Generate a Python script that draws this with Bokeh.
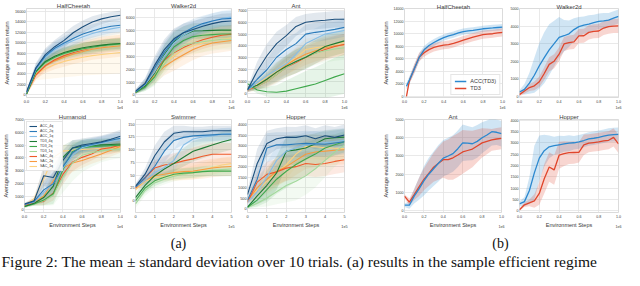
from bokeh.plotting import figure
from bokeh.layouts import column, row
from bokeh.models import (Range1d, FixedTicker, Label, Legend, LegendItem, NumeralTickFormatter,
                          Title, LinearAxis)
from bokeh.embed import file_html
from bokeh.resources import INLINE

# ---------------- data ----------------
NAMES = ["ACC_4q", "ACC_2q", "ACC_1q", "TD3_4q", "TD3_2q", "TD3_1q", "SAC_4q", "SAC_2q", "SAC_1q"]
COLORS = {"ACC_4q": "#1c4f7c", "ACC_2q": "#2b7bba", "ACC_1q": "#86bde6",
          "TD3_4q": "#1e7b35", "TD3_2q": "#3fa84c", "TD3_1q": "#a3d99c",
          "SAC_4q": "#ef5a2a", "SAC_2q": "#f79a3e", "SAC_1q": "#fdd17f"}

STEPS_1E6 = [0.0, 0.1, 0.2, 0.3, 0.4, 0.5, 0.6, 0.7, 0.8, 0.9, 1.0]
STEPS_1E5 = [0.0, 0.5, 1.0, 1.5, 2.0, 2.5, 3.0, 3.5, 4.0, 4.5, 5.0]

HC_A_MEAN = {
    "ACC_4q": [600, 5200, 7700, 9200, 10400, 11900, 13000, 13900, 14500, 14900, 15200],
    "ACC_2q": [500, 5000, 7400, 8900, 9900, 10800, 11600, 12200, 12700, 13100, 13300],
    "ACC_1q": [400, 4800, 7200, 8600, 9600, 10400, 11100, 11700, 12200, 12600, 12900],
    "TD3_4q": [200, 4500, 6400, 7400, 8100, 8600, 9000, 9300, 9500, 9700, 9800],
    "TD3_2q": [200, 4400, 6200, 7200, 7900, 8400, 8800, 9100, 9400, 9600, 9700],
    "TD3_1q": [200, 4300, 6100, 7100, 7800, 8300, 8700, 9000, 9300, 9500, 9600],
    "SAC_4q": [300, 3800, 5600, 6700, 7500, 8100, 8600, 9000, 9300, 9500, 9700],
    "SAC_2q": [300, 3900, 5500, 6500, 7200, 7800, 8300, 8700, 9000, 9200, 9400],
    "SAC_1q": [300, 4000, 5000, 5800, 6400, 6800, 7200, 7500, 7700, 7900, 8100]}
HC_A_STD = {
    "ACC_4q": [400, 900, 1200, 1300, 1400, 1300, 1200, 1100, 1000, 900, 900],
    "ACC_2q": [400, 900, 1200, 1300, 1300, 1300, 1300, 1300, 1300, 1300, 1300],
    "ACC_1q": [400, 800, 1100, 1200, 1200, 1200, 1200, 1200, 1200, 1200, 1200],
    "TD3_4q": [300, 700, 900, 1000, 1000, 1000, 1000, 1000, 1000, 1000, 1000],
    "TD3_2q": [300, 700, 900, 1000, 1100, 1100, 1100, 1100, 1100, 1100, 1100],
    "TD3_1q": [300, 700, 900, 1000, 1100, 1200, 1200, 1200, 1200, 1200, 1200],
    "SAC_4q": [300, 800, 1000, 1100, 1200, 1200, 1300, 1300, 1300, 1300, 1300],
    "SAC_2q": [300, 900, 1300, 1600, 1800, 1900, 2000, 2000, 2100, 2100, 2100],
    "SAC_1q": [300, 1200, 2000, 2600, 3000, 3300, 3500, 3700, 3800, 3900, 4000]}

W_A_MEAN = {
    "ACC_4q": [300, 900, 2300, 3500, 4330, 4800, 5050, 5300, 5500, 5650, 5700],
    "ACC_2q": [250, 850, 2100, 3300, 4200, 4800, 5200, 5500, 5700, 5850, 5900],
    "ACC_1q": [250, 800, 1800, 3000, 4000, 4600, 5000, 5400, 5700, 5900, 6000],
    "TD3_4q": [200, 700, 1700, 3100, 4100, 4600, 4930, 4950, 4980, 5000, 5000],
    "TD3_2q": [200, 600, 1400, 2700, 3700, 4200, 4500, 4600, 4650, 4700, 4700],
    "TD3_1q": [200, 600, 1300, 2400, 3300, 3800, 4000, 4100, 4200, 4300, 4300],
    "SAC_4q": [200, 800, 1800, 2700, 3260, 3650, 3980, 4250, 4450, 4600, 4690],
    "SAC_2q": [200, 700, 1500, 2200, 2670, 3100, 3500, 3800, 4000, 4100, 4200],
    "SAC_1q": [200, 800, 1700, 2500, 3000, 3500, 3800, 4000, 4200, 4300, 4400]}
W_A_STD = {
    "ACC_4q": [150, 400, 700, 800, 800, 700, 650, 600, 600, 600, 600],
    "ACC_2q": [150, 400, 700, 800, 800, 700, 650, 600, 600, 600, 600],
    "ACC_1q": [150, 400, 700, 800, 800, 700, 650, 600, 600, 600, 600],
    "TD3_4q": [100, 300, 600, 800, 800, 700, 600, 600, 600, 600, 600],
    "TD3_2q": [100, 300, 600, 800, 800, 700, 700, 700, 700, 700, 700],
    "TD3_1q": [100, 300, 600, 800, 900, 800, 800, 800, 800, 800, 800],
    "SAC_4q": [100, 300, 600, 700, 700, 700, 700, 700, 700, 700, 700],
    "SAC_2q": [100, 300, 600, 700, 800, 800, 800, 800, 800, 800, 800],
    "SAC_1q": [100, 300, 600, 700, 700, 700, 700, 700, 700, 700, 700]}

ANT_A_MEAN = {
    "ACC_4q": [300, 1900, 3180, 4200, 4870, 5650, 6000, 6100, 6170, 6250, 6250],
    "ACC_2q": [300, 1200, 2000, 3050, 3700, 4200, 5000, 5150, 5260, 5400, 5570],
    "ACC_1q": [300, 900, 1500, 2000, 2500, 3300, 4200, 4600, 5000, 5150, 5300],
    "TD3_4q": [400, 700, 1200, 1800, 2300, 2700, 3050, 3500, 3960, 4200, 4430],
    "TD3_2q": [830, 300, 150, 100, 200, 400, 600, 800, 1100, 1400, 1670],
    "TD3_1q": [400, 600, 1000, 1600, 2200, 2700, 3100, 3400, 3600, 3750, 3850],
    "SAC_4q": [300, 600, 1000, 1600, 2200, 2600, 3050, 3400, 3700, 3950, 4140],
    "SAC_2q": [300, 700, 1200, 1800, 2400, 2900, 3300, 3600, 3850, 4000, 4100],
    "SAC_1q": [300, 800, 1400, 2000, 2400, 3000, 3700, 3850, 3960, 4150, 4300]}
ANT_A_STD = {
    "ACC_4q": [200, 800, 1000, 1000, 900, 800, 700, 700, 700, 700, 700],
    "ACC_2q": [200, 700, 900, 1000, 1000, 900, 800, 800, 800, 800, 800],
    "ACC_1q": [200, 500, 800, 900, 1000, 1000, 900, 900, 900, 900, 900],
    "TD3_4q": [200, 400, 600, 800, 900, 1000, 1000, 1000, 1000, 1000, 1000],
    "TD3_2q": [300, 300, 400, 600, 900, 1100, 1300, 1400, 1500, 1600, 1700],
    "TD3_1q": [200, 400, 600, 800, 900, 1000, 1000, 1000, 1000, 1000, 1000],
    "SAC_4q": [200, 300, 500, 700, 800, 900, 900, 900, 900, 900, 900],
    "SAC_2q": [200, 300, 500, 700, 800, 900, 900, 900, 900, 900, 900],
    "SAC_1q": [200, 400, 600, 700, 800, 900, 900, 900, 900, 900, 900]}

HUM_MEAN = {
    "ACC_4q": [400, 650, 2600, 2470, 3800, 4770, 5010, 5130, 5250, 5450, 5690],
    "ACC_2q": [350, 600, 1500, 1990, 3320, 4400, 4900, 5050, 5200, 5380, 5540],
    "ACC_1q": [350, 550, 1300, 2000, 3200, 4200, 4800, 5000, 5150, 5300, 5400],
    "TD3_4q": [200, 450, 900, 1800, 4040, 4770, 4900, 4980, 5020, 5050, 5080],
    "TD3_2q": [200, 400, 700, 1200, 3070, 4500, 4800, 4880, 4920, 4960, 5000],
    "TD3_1q": [200, 400, 650, 1100, 2500, 3600, 4200, 4400, 4550, 4650, 4700],
    "SAC_4q": [300, 500, 600, 1260, 2710, 3680, 4040, 4300, 4700, 4800, 5010],
    "SAC_2q": [300, 550, 1000, 2200, 3200, 3600, 3800, 4050, 4300, 4600, 4900],
    "SAC_1q": [300, 800, 2350, 4040, 4530, 4600, 4650, 4700, 4750, 4780, 4800]}
HUM_STD = {
    "ACC_4q": [100, 200, 800, 900, 800, 600, 500, 500, 500, 500, 500],
    "ACC_2q": [100, 200, 700, 900, 800, 600, 500, 500, 500, 500, 500],
    "ACC_1q": [100, 200, 600, 900, 900, 700, 600, 500, 500, 500, 500],
    "TD3_4q": [100, 150, 400, 800, 900, 600, 500, 500, 500, 500, 500],
    "TD3_2q": [100, 150, 400, 800, 1000, 700, 500, 500, 500, 500, 500],
    "TD3_1q": [100, 150, 400, 800, 1200, 1400, 1300, 1100, 900, 800, 700],
    "SAC_4q": [100, 200, 300, 600, 800, 700, 600, 500, 500, 500, 500],
    "SAC_2q": [100, 200, 400, 700, 800, 700, 600, 500, 500, 500, 500],
    "SAC_1q": [100, 300, 800, 700, 500, 400, 400, 400, 400, 400, 400]}

SWIM_MEAN = {
    "ACC_4q": [28, 52, 88, 115, 132, 135, 135, 135, 137, 137, 137],
    "ACC_2q": [27, 45, 67, 97, 118, 124, 127, 128, 129, 130, 130],
    "ACC_1q": [27, 40, 55, 65, 79, 109, 121, 125, 127, 130, 132],
    "TD3_4q": [6, 30, 49, 62, 73, 85, 97, 103, 109, 115, 120],
    "TD3_2q": [0, 25, 39, 46, 52, 54, 55, 57, 58, 58, 58],
    "TD3_1q": [-6, 20, 35, 42, 48, 52, 55, 58, 60, 61, 62],
    "SAC_4q": [25, 45, 64, 70, 73, 78, 82, 87, 91, 91, 91],
    "SAC_2q": [25, 40, 49, 52, 55, 57, 58, 61, 64, 66, 67],
    "SAC_1q": [22, 38, 45, 48, 50, 52, 55, 60, 65, 70, 73]}
SWIM_STD = {
    "ACC_4q": [5, 12, 20, 20, 15, 12, 10, 10, 10, 10, 10],
    "ACC_2q": [5, 12, 20, 22, 18, 14, 12, 12, 12, 12, 12],
    "ACC_1q": [5, 10, 15, 20, 22, 20, 15, 12, 12, 12, 12],
    "TD3_4q": [8, 10, 12, 14, 16, 18, 20, 20, 20, 20, 20],
    "TD3_2q": [8, 10, 10, 10, 10, 10, 10, 10, 10, 10, 10],
    "TD3_1q": [8, 10, 10, 10, 10, 10, 10, 10, 10, 10, 10],
    "SAC_4q": [5, 10, 15, 18, 20, 20, 22, 22, 22, 22, 22],
    "SAC_2q": [5, 8, 10, 12, 14, 16, 16, 18, 18, 18, 18],
    "SAC_1q": [5, 8, 10, 10, 12, 12, 14, 14, 14, 14, 14]}

HOP_A_MEAN = {
    "ACC_4q": [670, 2150, 3110, 3330, 3410, 3400, 3480, 3330, 3480, 3400, 3510],
    "ACC_2q": [400, 1400, 2890, 3040, 3040, 3080, 3110, 3090, 3070, 3130, 3190],
    "ACC_1q": [300, 800, 1500, 2300, 2740, 2900, 3040, 3100, 3150, 3200, 3260],
    "TD3_4q": [70, 600, 1110, 1700, 2740, 2800, 2890, 3100, 3330, 3380, 3410],
    "TD3_2q": [60, 400, 900, 1400, 1780, 2100, 2370, 2600, 2890, 3050, 3190],
    "TD3_1q": [50, 250, 500, 800, 1100, 1300, 1560, 1900, 2300, 2700, 3040],
    "SAC_4q": [300, 1260, 1630, 1750, 1930, 2000, 2150, 2100, 2150, 2250, 2330],
    "SAC_2q": [350, 1000, 1400, 1780, 2000, 2300, 2590, 2700, 2740, 2780, 2810],
    "SAC_1q": [400, 900, 1300, 1700, 2100, 2600, 2960, 2950, 2900, 2880, 2860]}
HOP_A_STD = {
    "ACC_4q": [200, 700, 600, 500, 500, 500, 500, 500, 500, 500, 500],
    "ACC_2q": [200, 700, 700, 600, 600, 600, 600, 600, 600, 600, 600],
    "ACC_1q": [150, 500, 700, 700, 600, 600, 600, 600, 600, 600, 600],
    "TD3_4q": [50, 400, 700, 800, 700, 700, 600, 500, 400, 400, 400],
    "TD3_2q": [50, 300, 600, 700, 800, 800, 800, 700, 600, 500, 500],
    "TD3_1q": [50, 200, 400, 600, 800, 900, 900, 900, 800, 700, 600],
    "SAC_4q": [100, 500, 600, 600, 600, 600, 600, 600, 600, 600, 600],
    "SAC_2q": [100, 500, 600, 700, 700, 700, 700, 700, 700, 700, 700],
    "SAC_1q": [100, 500, 600, 700, 700, 600, 600, 600, 600, 600, 600]}

# panel (b)
B_STEPS = [0.0, 0.05, 0.1, 0.15, 0.2, 0.25, 0.3, 0.35, 0.4, 0.45, 0.5,
           0.55, 0.6, 0.65, 0.7, 0.75, 0.8, 0.85, 0.9, 0.95, 1.0]
HC_B_STEPS = [0.02, 0.05, 0.1, 0.15, 0.2, 0.25, 0.3, 0.35, 0.4, 0.45, 0.5,
              0.55, 0.6, 0.65, 0.7, 0.75, 0.8, 0.85, 0.9, 0.95, 1.0]
HC_B_ACC = [1600, 2600, 4400, 6200, 7420, 8100, 8580, 9000, 9370, 9650, 9840,
            10100, 10300, 10420, 10530, 10650, 10770, 10840, 10900, 10970, 11040]
HC_B_ACC_STD = [500, 600, 700, 650, 600, 550, 550, 550, 500, 500, 500,
                500, 500, 500, 500, 500, 500, 500, 500, 500, 500]
HC_B_TD3 = [0, 2500, 4400, 6260, 6960, 7450, 7800, 8000, 8150, 8250, 8450,
            8700, 8950, 9200, 9450, 9650, 9840, 9920, 9980, 10100, 10200]
HC_B_TD3_STD = [100, 500, 700, 700, 650, 650, 650, 650, 650, 650, 650,
                650, 650, 650, 650, 650, 650, 650, 650, 650, 650]
W_B_ACC = [250, 400, 750, 1200, 1740, 2200, 2650, 3000, 3360, 3450, 3560,
           3800, 3970, 4050, 4110, 4200, 4270, 4300, 4340, 4450, 4550]
W_B_ACC_STD = [100, 300, 600, 1000, 1300, 1450, 1450, 1300, 1150, 900, 750,
               650, 550, 500, 500, 450, 450, 450, 400, 400, 400]
W_B_TD3 = [100, 300, 500, 600, 830, 1300, 1820, 2000, 2400, 2980, 3060,
           3100, 3440, 3450, 3640, 3700, 3720, 3890, 3970, 4000, 4010]
W_B_TD3_STD = [100, 150, 200, 250, 300, 350, 400, 400, 400, 400, 400,
               400, 400, 400, 400, 400, 400, 400, 400, 400, 400]
ANT_B_ACC = [300, 300, 800, 1200, 1630, 2000, 2300, 2600, 2880, 3000, 3130,
             3400, 3720, 3700, 3670, 3800, 4000, 4150, 4330, 4300, 4220]
ANT_B_ACC_STD = [100, 200, 400, 600, 800, 900, 950, 1000, 1000, 1000, 1000,
                 1000, 1000, 950, 900, 900, 850, 800, 750, 700, 700]
ANT_B_TD3 = [800, 470, 880, 1300, 1720, 2050, 2380, 2600, 2800, 2800, 2900,
             3050, 3220, 3300, 3380, 3550, 3720, 3800, 3880, 3930, 3970]
ANT_B_TD3_STD = [100, 200, 300, 500, 600, 700, 800, 900, 1000, 1100, 1200,
                 1200, 1200, 1100, 1000, 900, 800, 700, 600, 600, 600]
HOP_B_ACC = [300, 400, 890, 1670, 2320, 2650, 2820, 2870, 2910, 2950, 2980,
             3000, 3040, 3100, 3170, 3200, 3240, 3290, 3340, 3360, 3370]
HOP_B_ACC_STD = [100, 200, 600, 1200, 1000, 700, 500, 400, 400, 350, 350,
                 300, 300, 300, 300, 300, 300, 300, 300, 300, 300]
HOP_B_TD3 = [40, 260, 340, 430, 760, 1410, 1930, 1800, 2450, 2520, 2560,
             2570, 2580, 2910, 2980, 3010, 3040, 3080, 3110, 3240, 2950]
HOP_B_TD3_STD = [50, 100, 150, 300, 500, 650, 650, 650, 600, 550, 500,
                 500, 450, 450, 400, 400, 400, 400, 400, 400, 400]
B_COLORS = {"ACC(TD3)": "#2b88cf", "TD3": "#e0462c"}

TICKS_1E6 = [0.0, 0.2, 0.4, 0.6, 0.8, 1.0]
TICKS_1E5 = [0, 1, 2, 3, 4, 5]

CAPTION = ("Figure 2: The mean \u00b1 standard deviation over 10 trials. "
           "(a) results in the sample efficient regime")

# ---------------- layout helpers ----------------
SX = 624 / 640
SY = 270 / 286


def hx(v):
    return int(round(v * SX))


def vy(v):
    return int(round(v * SY))


FONT = "Liberation Sans"
TXT = "#3a3a3a"
GRID = "#e3e3e3"


def style_axis(ax, tick_size):
    ax.axis_line_color = None
    ax.major_tick_line_color = None
    ax.minor_tick_line_color = None
    ax.major_tick_out = 0
    ax.major_tick_in = 0
    ax.minor_tick_out = 0
    ax.minor_tick_in = 0
    ax.major_label_text_font = FONT
    ax.major_label_text_font_size = tick_size
    ax.major_label_text_color = TXT
    ax.major_label_standoff = 1
    ax.axis_label_text_font = FONT
    ax.axis_label_text_font_size = "5.5px"
    ax.axis_label_text_font_style = "normal"
    ax.axis_label_text_color = TXT


def panel(fx, frx, ry, fry, xr, yr, xticks, yticks, xfmt, title,
          tick_size="3.8px", ylabel=None, xlabel=None, offset_text="1e6",
          ylabel_standoff=2):
    x0, x1 = hx(fx[0]), hx(fx[1])
    y0, y1 = vy(ry[0]), vy(ry[1])
    top = vy(fry[0]) - y0
    p = figure(width=x1 - x0, height=y1 - y0, output_backend="svg",
               toolbar_location=None,
               x_range=Range1d(*xr), y_range=Range1d(*yr),
               min_border_left=hx(frx[0]) - x0, min_border_right=x1 - hx(frx[1]),
               min_border_top=top, min_border_bottom=y1 - vy(fry[1]))
    p.title = Title(text=title, align="center", text_font=FONT, text_font_size="6px",
                    text_font_style="normal", text_color=TXT, standoff=top - 9)
    p.background_fill_color = "white"
    p.border_fill_color = "white"
    p.outline_line_color = "#d2d2d2"
    p.outline_line_width = 0.8
    style_axis(p.xaxis[0], tick_size)
    style_axis(p.yaxis[0], tick_size)
    p.xaxis[0].major_label_standoff = 2
    p.xaxis[0].ticker = FixedTicker(ticks=xticks)
    p.yaxis[0].ticker = FixedTicker(ticks=yticks)
    p.xaxis[0].formatter = NumeralTickFormatter(format=xfmt)
    if ylabel:
        p.yaxis[0].axis_label = ylabel
        p.yaxis[0].axis_label_standoff = ylabel_standoff
    if xlabel:
        p.xaxis[0].axis_label = xlabel
        p.xaxis[0].axis_label_standoff = 1
    p.grid.grid_line_color = GRID
    p.grid.grid_line_width = 0.8
    # offset text (scale factor of the x axis), as a second bottom axis
    off = LinearAxis(ticker=FixedTicker(ticks=[xr[1]]),
                     major_label_overrides={xr[1]: offset_text})
    style_axis(off, tick_size)
    off.major_label_standoff = -6 if xlabel else 0
    p.add_layout(off, "below")
    return p


def draw_a(p, steps, means, stds):
    for n in reversed(NAMES):
        lo = [m - s for m, s in zip(means[n], stds[n])]
        hi = [m + s for m, s in zip(means[n], stds[n])]
        p.varea(x=steps, y1=lo, y2=hi, fill_color=COLORS[n], fill_alpha=0.13)
    rs = {}
    for n in reversed(NAMES):
        rs[n] = p.line(steps, means[n], line_color=COLORS[n], line_width=1.1)
    return rs


def draw_b(p, steps, acc, acc_std, td3, td3_std):
    rs = {}
    for name, m, s in (("ACC(TD3)", acc, acc_std), ("TD3", td3, td3_std)):
        p.varea(x=steps, y1=[a - b for a, b in zip(m, s)], y2=[a + b for a, b in zip(m, s)],
                fill_color=B_COLORS[name], fill_alpha=0.22)
    for name, m in (("TD3", td3), ("ACC(TD3)", acc)):
        rs[name] = p.line(steps, m, line_color=B_COLORS[name], line_width=1.3)
    return rs


YL = "Average evaluation return"
XL = "Environment Steps"

# ---------------- row 1 ----------------
f_hc_a = panel((0, 126), (22.7, 122.7), (0, 118), (9, 105), (0, 1), (-477, 16477),
               TICKS_1E6, list(range(0, 16001, 2000)), "0.0", "HalfCheetah", ylabel=YL)
draw_a(f_hc_a, STEPS_1E6, HC_A_MEAN, HC_A_STD)
f_w_a = panel((126, 241), (136.5, 237.3), (0, 118), (9, 105), (0, 1), (-193, 6664),
              TICKS_1E6, list(range(0, 6001, 1000)), "0.0", "Walker2d")
draw_a(f_w_a, STEPS_1E6, W_A_MEAN, W_A_STD)
f_ant_a = panel((241, 358), (252.7, 352.7), (0, 118), (9, 105), (0, 1), (-336, 7156),
                TICKS_1E6, list(range(0, 7001, 1000)), "0.0", "Ant")
draw_a(f_ant_a, STEPS_1E6, ANT_A_MEAN, ANT_A_STD)
f_hc_b = panel((358, 520), (414, 515), (0, 118), (6, 108), (0, 1), (-181, 14000),
               TICKS_1E6, list(range(0, 14001, 2000)), "0.0", "HalfCheetah",
               tick_size="3.6px", ylabel=YL)
rb = draw_b(f_hc_b, HC_B_STEPS, HC_B_ACC, HC_B_ACC_STD, HC_B_TD3, HC_B_TD3_STD)
leg_b = Legend(items=[LegendItem(label="ACC(TD3)", renderers=[rb["ACC(TD3)"]]),
                      LegendItem(label="TD3", renderers=[rb["TD3"]])],
               location="bottom_right", label_text_font=FONT, label_text_font_size="5.5px",
               label_text_color=TXT, glyph_width=12, glyph_height=6, label_height=6,
               spacing=1, padding=3, margin=2, label_standoff=4,
               border_line_color="#cccccc", border_line_width=0.8, background_fill_alpha=0.85)
f_hc_b.add_layout(leg_b)
f_w_b = panel((520, 640), (531.7, 634), (0, 118), (6, 108), (0, 1), (-65, 5000),
              TICKS_1E6, list(range(0, 5001, 1000)), "0.0", "Walker2d", tick_size="3.6px")
draw_b(f_w_b, B_STEPS, W_B_ACC, W_B_ACC_STD, W_B_TD3, W_B_TD3_STD)

# ---------------- row 2 ----------------
f_hum = panel((0, 126), (22.7, 122.7), (118, 244), (126, 226), (0, 1), (-269, 7000),
              TICKS_1E6, list(range(0, 7001, 1000)), "0.0", "Humanoid",
              ylabel=YL, xlabel=XL, ylabel_standoff=3)
ra = draw_a(f_hum, STEPS_1E6, HUM_MEAN, HUM_STD)
leg_a = Legend(items=[LegendItem(label=n, renderers=[ra[n]]) for n in NAMES],
               location="top_left", label_text_font=FONT, label_text_font_size="3.5px",
               label_text_color=TXT, glyph_width=8, glyph_height=4, label_height=4,
               spacing=1, padding=2, margin=2, label_standoff=3,
               border_line_color="#cccccc", border_line_width=0.8, background_fill_alpha=0.85)
f_hum.add_layout(leg_a)
f_swim = panel((126, 241), (138.5, 237.3), (118, 244), (126, 226), (0, 5), (-23, 159),
               TICKS_1E5, list(range(0, 151, 25)), "0", "Swimmer", xlabel=XL, offset_text="1e5")
draw_a(f_swim, STEPS_1E5, SWIM_MEAN, SWIM_STD)
f_hop_a = panel((241, 358), (253.3, 352.7), (118, 244), (126, 226), (0, 5), (-191, 4253),
                TICKS_1E5, list(range(0, 4001, 500)), "0", "Hopper", xlabel=XL, offset_text="1e5")
draw_a(f_hop_a, STEPS_1E5, HOP_A_MEAN, HOP_A_STD)
f_ant_b = panel((358, 520), (414, 514), (118, 244), (126, 228), (0, 1), (-100, 5000),
                TICKS_1E6, list(range(0, 5001, 1000)), "0.0", "Ant", tick_size="3.6px",
                ylabel=YL, xlabel=XL, ylabel_standoff=4)
draw_b(f_ant_b, B_STEPS, ANT_B_ACC, ANT_B_ACC_STD, ANT_B_TD3, ANT_B_TD3_STD)
f_hop_b = panel((520, 640), (531.7, 634), (118, 244), (126, 228), (0, 1), (-81, 4028),
                TICKS_1E6, list(range(0, 4001, 500)), "0.0", "Hopper", tick_size="3.6px",
                xlabel=XL)
draw_b(f_hop_b, B_STEPS, HOP_B_ACC, HOP_B_ACC_STD, HOP_B_TD3, HOP_B_TD3_STD)

# ---------------- caption row ----------------
cap_h = 270 - vy(244)
cap = figure(width=624, height=cap_h, output_backend="svg", toolbar_location=None, title=None,
             x_range=Range1d(0, 624), y_range=Range1d(0, cap_h),
             x_axis_type=None, y_axis_type=None, min_border=0)
cap.grid.visible = False
cap.outline_line_color = None
cap.add_layout(Label(x=hx(183), y=cap_h - (vy(257) - vy(244)), text="(a)", text_align="center",
                     text_baseline="middle", text_font="Liberation Serif",
                     text_font_size="14px", text_color="#111111"))
cap.add_layout(Label(x=hx(513), y=cap_h - (vy(257) - vy(244)), text="(b)", text_align="center",
                     text_baseline="middle", text_font="Liberation Serif",
                     text_font_size="14px", text_color="#111111"))
cap.add_layout(Label(x=1, y=9, text=CAPTION, text_align="left",
                     text_baseline="middle", text_font="Liberation Serif",
                     text_font_size="15.5px", text_color="#111111"))

layout = column(row(f_hc_a, f_w_a, f_ant_a, f_hc_b, f_w_b),
                row(f_hum, f_swim, f_hop_a, f_ant_b, f_hop_b),
                cap)

open("out.html", "w").write(file_html(layout, INLINE))
